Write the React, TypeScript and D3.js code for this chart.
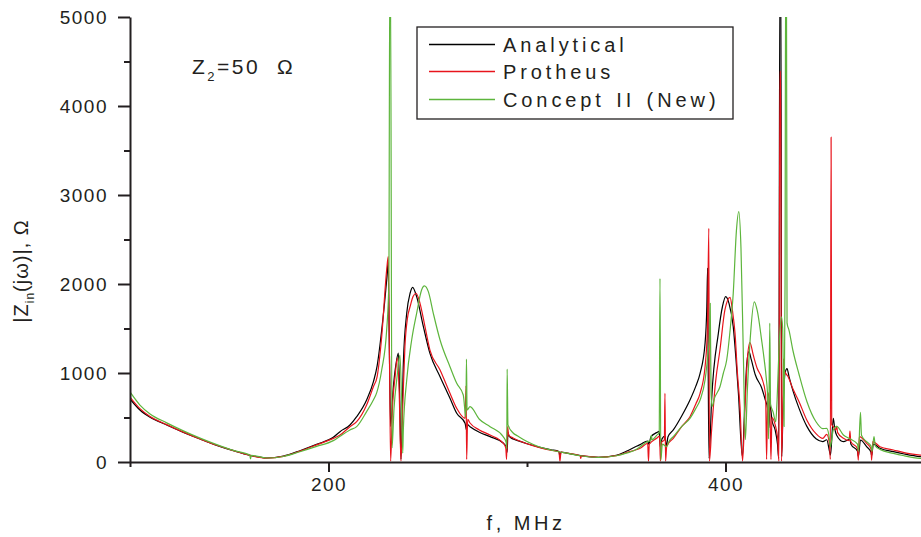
import { useEffect, useRef } from 'react';
import * as d3 from 'd3';

type Pt = [number, number];

// [f (MHz), |Zin| (Ohm)]
const analytical: Pt[] = [
  [100, 708], [105, 584], [110.1, 502], [118.5, 416], [126.9, 333], [135.3, 258], [143.7, 187],
  [152.1, 127], [160.5, 75], [168.9, 45], [177.3, 67], [185.6, 127], [194, 199], [202.4, 277],
  [205.8, 341], [210.8, 416], [214.2, 509], [219.2, 697], [222.6, 900], [224.5, 1080], [226.8, 1483],
  [229.3, 2045], [230.0, 2240], [230.7, 1200], [231.3, 400], [232.5, 800], [234, 1100], [235.2, 1225],
  [235.9, 700], [236.5, 30], [237.7, 1109], [239.4, 1671], [241.1, 1896], [242.4, 1963], [244.4, 1858],
  [247.8, 1521], [251.1, 1221], [256.2, 959], [261.2, 716], [264.6, 547], [268.8, 435], [269.5, 360],
  [270.0, 420], [271.3, 397], [276, 335], [281.4, 285], [288, 213], [289.5, 170], [290.0, 110],
  [290.4, 330], [291, 290], [293, 258], [295.3, 240], [300, 205], [306, 167], [312, 138], [316.1, 118],
  [316.6, 55], [317.1, 112], [320, 100], [327, 72], [336, 53], [345, 76], [350, 120], [355.4, 179],
  [357, 195], [360.8, 236], [361.3, 200], [362.5, 285], [365.3, 330], [366.6, 345], [367.2, 160],
  [368, 260], [369.5, 290], [370.2, 172], [371, 280], [373.7, 360], [378, 520], [382.1, 697],
  [385, 850], [387.2, 996], [389.7, 1333], [390.6, 1750], [391.0, 2176], [391.3, 1000], [391.7, 40],
  [393.0, 697], [396.4, 1446], [398.5, 1750], [400.1, 1858], [401.8, 1780], [403.9, 1521], [405.3, 1150],
  [406.5, 772], [408.5, 60], [409.8, 700], [410.7, 1100], [411.8, 1240], [413, 1150], [415, 980],
  [418.2, 834], [420, 700], [421.2, 600], [421.8, 380], [422.4, 640], [423.5, 460], [425, 360],
  [426.2, 200], [426.8, 40], [427.4, 5500], [427.9, 5500], [428.3, 60], [429, 600], [430, 1000],
  [431, 1050], [432, 960], [434, 800], [437, 605], [441, 400], [445.6, 261], [449, 230], [451, 250],
  [452.4, 120], [452.9, 78], [454.3, 491], [455, 380], [456, 300], [459.4, 228], [462.7, 255],
  [463.2, 200], [466.5, 120], [466.9, 60], [468, 247], [471.1, 172], [473.3, 110], [473.6, 70],
  [474.5, 200], [477.8, 154], [484.6, 116], [490, 90], [498, 60], [500, 56],
];

const protheus: Pt[] = [
  [100, 730], [105, 600], [110.1, 512], [118.5, 420], [126.9, 336], [135.3, 260], [143.7, 188],
  [152.1, 127], [160.5, 74], [168.9, 44], [177.3, 64], [185.6, 122], [194, 192], [202.4, 265],
  [205.8, 303], [210.8, 397], [214.2, 453], [219.2, 640], [222.6, 846], [224.5, 960], [226.8, 1408],
  [229.3, 2157], [230.1, 2307], [230.8, 1000], [231.3, 10], [232.2, 600], [233.5, 950], [234.7, 1170],
  [235.6, 800], [236.5, 10], [237.5, 700], [238.5, 1296], [239.8, 1620], [241.1, 1745], [242.6, 1860],
  [244.1, 1896], [246.1, 1783], [248.6, 1521], [251.1, 1258], [256.2, 1034], [261.2, 772], [264.6, 603],
  [268.8, 491], [269.3, 854], [269.6, 30], [270.1, 480], [271.3, 438], [276, 360], [281.4, 303],
  [288, 213], [289.3, 160], [289.7, 30], [290.2, 397], [290.8, 300], [293, 270], [295.3, 245],
  [300, 205], [306, 165], [312, 132], [316.1, 115], [316.6, 10], [317.1, 110], [320, 100], [326.8, 70],
  [327.1, 40], [327.4, 68], [336, 53], [345, 72], [350, 105], [355.4, 141], [357, 154], [360.8, 209],
  [361.2, 10], [361.6, 200], [365.3, 266], [366.8, 290], [367.2, 10], [367.7, 220], [369.2, 250],
  [369.5, 772], [369.8, 10], [370.4, 180], [373.7, 266], [378, 400], [382.1, 509], [385, 650],
  [387.2, 772], [389.7, 1071], [390.9, 1500], [391.6, 2626], [391.9, 10], [393.0, 360], [395, 900],
  [397.2, 1258], [399.7, 1708], [402.3, 1850], [403.5, 1700], [404.8, 1446], [406, 1000], [407.3, 622],
  [408.6, 10], [409.8, 600], [411, 1150], [412.3, 1341], [414, 1200], [416, 1050], [418.2, 949],
  [420.2, 760], [420.7, 30], [421.2, 650], [421.9, 780], [422.5, 450], [422.9, 30], [423.4, 500],
  [425, 420], [426.3, 260], [426.9, 10], [427.4, 4390], [427.8, 4390], [428.2, 10], [428.8, 500],
  [429.2, 1160], [429.8, 1020], [431.5, 960], [434, 820], [437, 681], [441, 470], [445.6, 318],
  [449, 265], [451, 310], [452.4, 200], [452.8, 30], [453.2, 3650], [453.5, 420], [454.3, 397],
  [455.5, 360], [456, 400], [456.5, 330], [459.4, 266], [462.3, 240], [462.7, 348], [463.1, 230],
  [466.5, 150], [466.9, 20], [467.4, 285], [471.1, 210], [473.3, 150], [473.6, 20], [474.2, 230],
  [477.8, 172], [484.6, 135], [490, 105], [498, 78], [500, 72],
];

const conceptII: Pt[] = [
  [100, 787], [105, 640], [110.1, 540], [118.5, 440], [126.9, 350], [135.3, 268], [143.7, 195],
  [152.1, 130], [160.3, 78], [160.7, 35], [161.1, 74], [168.9, 45], [177.3, 62], [185.6, 115],
  [194, 175], [202.4, 240], [205.8, 290], [210.8, 360], [214.2, 397], [219.2, 566], [222.6, 697],
  [224.3, 780], [226.8, 1034], [229.3, 1483], [230.4, 2000], [230.9, 5600], [231.2, 5600], [232.0, 160],
  [233, 600], [234.5, 950], [236.0, 1200], [236.8, 700], [237.4, 100], [237.7, 360], [239.4, 921],
  [241.9, 1371], [244.4, 1671], [246.9, 1933], [248.3, 1978], [250.3, 1914], [252.8, 1671],
  [256.2, 1371], [261.2, 1071], [264.6, 884], [267.9, 753], [269.2, 500], [269.5, 1157], [269.8, 584],
  [271.3, 622], [276, 480], [281.4, 397], [288, 285], [289.5, 220], [289.8, 150], [290.0, 1045],
  [290.4, 420], [293, 326], [295.3, 293], [300, 230], [306, 172], [312, 135], [316.6, 112], [320, 100],
  [327, 70], [336, 52], [345, 70], [350, 100], [355.4, 145], [357, 172], [360.8, 230], [362.3, 240],
  [362.6, 303], [363, 250], [365.3, 300], [366.6, 330], [367.0, 2064], [367.4, 20], [368.2, 200],
  [370.4, 172], [371.5, 230], [373.7, 285], [378, 400], [382.1, 491], [385, 600], [387.2, 697],
  [389.7, 921], [391.3, 1250], [392.0, 1450], [392.3, 1783], [392.7, 800], [393.2, 622], [394.5, 720],
  [397.2, 846], [398.9, 997], [400.6, 1146], [402.4, 1500], [403.9, 1895], [405.5, 2600], [406.7, 2813],
  [407.8, 2400], [409, 1200], [410, 250], [411, 800], [412.5, 1400], [414.5, 1800], [416, 1700],
  [418.2, 1370], [419.5, 1150], [420.5, 950], [421.3, 700], [421.7, 260], [422.3, 1560], [422.7, 650],
  [424, 560], [425.3, 450], [426, 700], [427, 1300], [428.2, 1630], [428.8, 1500], [429.5, 400],
  [430.0, 2000], [430.3, 5600], [430.7, 5600], [431.0, 1560], [432, 1480], [434, 1250], [437, 989],
  [441, 680], [445.6, 452], [449, 375], [451, 378], [452.4, 250], [452.8, 172], [454.3, 360],
  [456, 400], [459.4, 303], [462.7, 260], [466.5, 200], [467, 120], [468, 558], [468.5, 300],
  [471.1, 228], [473.3, 180], [473.8, 120], [474.8, 285], [475.5, 180], [477.8, 142], [484.6, 97],
  [490, 70], [498, 41], [500, 38],
];

const seriesNames = ['Analytical', 'Protheus', 'Concept II (New)'];
const seriesColors = ['#000000', '#e8141c', '#5db53c'];

const yMajorTicks = [0, 1000, 2000, 3000, 4000, 5000];
const yMinorTicks = [500, 1500, 2500, 3500, 4500];
const xMajorTicks = [200, 400];
const xMinorTicks = [100, 300, 500];

const font = '"Liberation Sans", Arial, sans-serif';
const ink = '#231f20';

export default function App() {
  const svgRef = useRef<SVGSVGElement>(null);

  useEffect(() => {
    const svg = d3.select(svgRef.current);
    svg.selectAll('*').remove();

    const x = d3.scaleLinear().domain([100, 500]).range([130, 924]);
    const y = d3.scaleLinear().domain([0, 5000]).range([462, 17]);

    svg.append('defs').append('clipPath').attr('id', 'plot-clip')
      .append('rect')
      .attr('x', 130).attr('y', 17).attr('width', 800).attr('height', 447);

    const line = d3.line<Pt>()
      .x(d => x(d[0]))
      .y(d => y(d[1]))
      .curve(d3.curveMonotoneX);

    const allSeries = [analytical, protheus, conceptII];

    svg.append('g').attr('clip-path', 'url(#plot-clip)')
      .selectAll('path')
      .data(allSeries)
      .enter()
      .append('path')
      .attr('d', d => line(d))
      .attr('fill', 'none')
      .attr('stroke', (d, i) => seriesColors[i])
      .attr('stroke-width', 1.2)
      .attr('stroke-linejoin', 'round');

    // y axis
    const yAxis = svg.append('g').attr('transform', 'translate(130,0)')
      .call(d3.axisLeft(y).tickValues(yMajorTicks).tickSize(12).tickSizeOuter(0).tickPadding(10)
        .tickFormat(d3.format('d')));
    svg.append('g').attr('transform', 'translate(130,0)')
      .call(d3.axisLeft(y).tickValues(yMinorTicks).tickSize(6).tickSizeOuter(0).tickFormat(() => ''))
      .select('.domain').remove();

    // x axis
    const xAxis = svg.append('g').attr('transform', 'translate(0,462)')
      .call(d3.axisBottom(x).tickValues(xMajorTicks).tickSize(10).tickSizeOuter(0).tickPadding(6)
        .tickFormat(d3.format('d')));
    svg.append('g').attr('transform', 'translate(0,462)')
      .call(d3.axisBottom(x).tickValues(xMinorTicks).tickSize(5).tickSizeOuter(0).tickFormat(() => ''))
      .select('.domain').remove();

    svg.selectAll('.domain, .tick line')
      .attr('stroke', ink)
      .attr('stroke-width', 2);
    [yAxis, xAxis].forEach(a => a.selectAll('text')
      .attr('fill', ink)
      .style('font-family', font)
      .style('font-size', '19px')
      .style('letter-spacing', '1.5px'));

    // axis titles
    svg.append('text')
      .attr('x', 526).attr('y', 530)
      .attr('text-anchor', 'middle')
      .attr('fill', ink)
      .style('font-family', font).style('font-size', '20px').style('letter-spacing', '3.5px')
      .text('f, MHz');

    const yl = svg.append('text')
      .attr('transform', 'translate(28,271) rotate(-90)')
      .attr('text-anchor', 'middle')
      .attr('fill', ink)
      .style('font-family', font).style('font-size', '20px').style('letter-spacing', '1px');
    yl.append('tspan').text('|Z');
    yl.append('tspan').attr('dy', 6).style('font-size', '12px').text('in');
    yl.append('tspan').attr('dy', -6).text('(jω)|, Ω');

    // annotation
    const ann = svg.append('text')
      .attr('x', 192).attr('y', 74)
      .attr('fill', ink)
      .style('font-family', font).style('font-size', '21px').style('letter-spacing', '2.5px');
    ann.append('tspan').text('Z');
    ann.append('tspan').attr('dy', 7).style('font-size', '13px').text('2');
    ann.append('tspan').attr('dy', -7).text('=50');
    ann.append('tspan').attr('x', 277).text('Ω');

    // legend
    const legend = svg.append('g');
    legend.append('rect')
      .attr('x', 417).attr('y', 27).attr('width', 316).attr('height', 92)
      .attr('fill', 'white').attr('stroke', ink).attr('stroke-width', 1.3);
    const items = legend.selectAll('.legend-item')
      .data(seriesNames)
      .enter()
      .append('g')
      .attr('class', 'legend-item')
      .attr('transform', (d, i) => `translate(0, ${44.5 + i * 27.5})`);
    items.append('line')
      .attr('x1', 429).attr('x2', 495)
      .attr('y1', (d, i) => (i === 1 ? -0.5 : 0)).attr('y2', (d, i) => (i === 1 ? -0.5 : 0))
      .attr('stroke', d => seriesColors[seriesNames.indexOf(d)])
      .attr('stroke-width', 1.3);
    items.append('text')
      .attr('x', 503).attr('y', 7)
      .attr('fill', ink)
      .style('font-family', font).style('font-size', '20px')
      .style('letter-spacing', '3.9px').style('word-spacing', '2px')
      .text(d => d);
  }, []);

  return (
    <div style={{ position: 'absolute', left: 0, top: 0 }}>
      <svg ref={svgRef} width={921} height={537} style={{ display: 'block', background: 'white' }}></svg>
    </div>
  );
}
